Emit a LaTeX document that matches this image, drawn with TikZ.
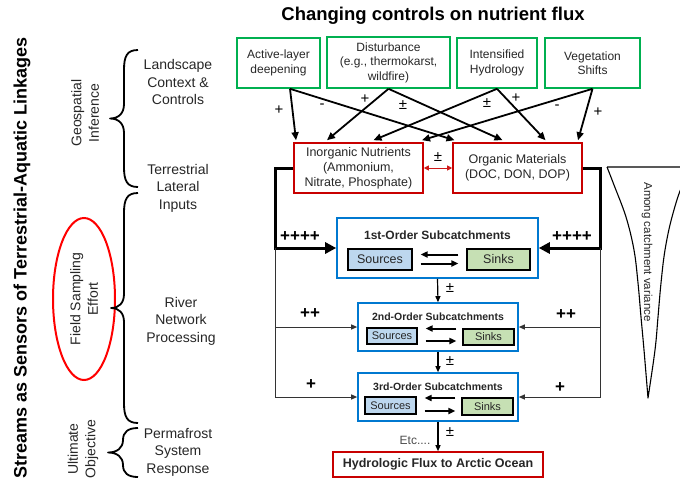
\documentclass[tikz,border=0pt]{standalone}
\usepackage{fontspec}
\setmainfont{Liberation Sans}
\usetikzlibrary{arrows.meta,calc}
\definecolor{gcol}{HTML}{00B050}
\definecolor{rcol}{HTML}{C80000}
\definecolor{bcol}{HTML}{0078D0}
\definecolor{srcfill}{HTML}{BDD7EE}
\definecolor{snkfill}{HTML}{C6E0B4}
\definecolor{txt}{HTML}{262626}
\definecolor{ell}{HTML}{FF0000}
\begin{document}
\begin{tikzpicture}[x=1pt,y=-1pt,
  gbox/.style={draw=gcol, line width=1.6pt, align=center, inner sep=0pt, minimum height=50, text=txt, font=\fontsize{12}{14.5}\selectfont},
  rbox/.style={draw=rcol, line width=1.6pt, align=center, inner sep=0pt, minimum height=50, text=txt, font=\fontsize{12.5}{15}\selectfont},
  bbox/.style={draw=bcol, line width=1.6pt, inner sep=0pt},
  srcbox/.style={draw=black, fill=srcfill, line width=1.2pt, inner sep=0pt, text=txt},
  snkbox/.style={draw=black, fill=snkfill, line width=1.2pt, inner sep=0pt, text=txt},
  ctrl/.style={line width=1.8pt, -{Triangle[length=8pt,width=7pt]}},
  thickln/.style={line width=3pt, -{Triangle[length=11pt,width=11pt]}},
  thinln/.style={line width=1pt, draw=black!80, -{Triangle[length=6pt,width=5pt]}},
  inarr/.style={line width=2pt, -{Triangle[length=7pt,width=6pt]}},
  varr/.style={line width=1.2pt, -{Triangle[length=6pt,width=5pt]}},
  sign/.style={font=\fontsize{15}{15}\selectfont, text=black},
  bsign/.style={font=\bfseries\fontsize{17}{17}\selectfont, text=black},
  lbl/.style={align=center, text=txt, font=\fontsize{14}{17.5}\selectfont},
  brc/.style={line width=1.8pt, line join=round}
]
\useasboundingbox (0,0) rectangle (680,491);

% titles
\node[font=\bfseries\fontsize{18.5}{20}\selectfont, text=black] (TT) at (433,16) {Changing controls on nutrient flux};
\node[rotate=90, font=\bfseries\fontsize{18}{18}\selectfont, text=black] (LT) at (22,258) {Streams as Sensors of Terrestrial-Aquatic Linkages};

% left column labels
\node[lbl, rotate=90] (GI) at (85,113) {Geospatial\\Inference};
\node[lbl, rotate=90] (FS) at (84,299) {Field Sampling\\Effort};
\node[lbl, rotate=90] (UO) at (83,449) {Ultimate\\Objective};
\node[lbl] (LC) at (178,82) {Landscape\\Context \&\\Controls};
\node[lbl] (TL) at (178,188) {Terrestrial\\Lateral\\Inputs};
\node[lbl] (RN) at (181,321) {River\\Network\\Processing};
\node[lbl] (PS) at (178,452) {Permafrost\\System\\Response};
\draw[ell, line width=2pt] (FS.center) ellipse [x radius=31, y radius=81];

% braces
\draw[brc] (138,50) .. controls (127,50) and (124,56) .. (124,70) -- (124,104) .. controls (124,113) and (119,118.5) .. (110,118.5) .. controls (119,118.5) and (124,124) .. (124,133) -- (124,167) .. controls (124,181) and (127,187) .. (138,187);
\draw[brc] (138,193) .. controls (127,193) and (124,199) .. (124,213) -- (124,294) .. controls (124,303) and (119,308) .. (111,308) .. controls (119,308) and (124,313) .. (124,322) -- (124,403) .. controls (124,417) and (127,423) .. (138,423);
\draw[brc] (138,428) .. controls (128,428) and (123,432) .. (123,440) .. controls (123,448) and (117,452.5) .. (108,452.5) .. controls (117,452.5) and (123,457) .. (123,465) .. controls (123,473) and (128,477) .. (138,477);

% green driver boxes
\node[gbox, minimum width=83] (A) at (278.5,63) {Active-layer\\deepening};
\node[gbox, minimum width=123, minimum height=51] (D) at (388.5,62.5) {Disturbance\\(e.g., thermokarst,\\wildfire)};
\node[gbox, minimum width=80] (H) at (497,63) {Intensified\\Hydrology};
\node[gbox, minimum width=95] (V) at (592.5,63) {Vegetation\\Shifts};

% red nutrient boxes
\node[rbox, minimum width=129] (I) at (358.5,168) {Inorganic Nutrients\\(Ammonium,\\Nitrate, Phosphate)};
\node[rbox, minimum width=129] (O) at (517.5,168) {Organic Materials\\(DOC, DON, DOP)};
\draw[rcol!90!white, line width=1pt, {Triangle[length=5pt,width=5pt]}-{Triangle[length=5pt,width=5pt]}] (I.east) -- (O.west);
\node[sign] (pmIO) at (438,157) {±};

% driver arrows
\coordinate (a0) at ($(A.south)+(11.5,0)$);
\draw[ctrl] (a0) -- ($(I.north)+(-62.5,-2)$);
\draw[ctrl] (a0) -- ($(O.north)+(-63,-2)$);
\draw[ctrl] (D.south) -- ($(I.north)+(-31.5,-2)$);
\draw[ctrl] (D.south) -- ($(O.north)+(-15,-2)$);
\draw[ctrl] (H.south) -- ($(I.north)+(15,-2)$);
\draw[ctrl] (H.south) -- ($(O.north)+(28,-2)$);
\draw[ctrl] (V.south) -- ($(I.north)+(63.5,-2)$);
\draw[ctrl] (V.south) -- ($(O.north)+(60.5,-2)$);
\node[sign] (s1) at (279,110) {+};
\node[sign] (s2) at (322,106) {-};
\node[sign] (s3) at (365,99) {+};
\node[sign] (s4) at (403,105) {±};
\node[sign] (s5) at (487,103) {±};
\node[sign] (s6) at (516,98) {+};
\node[sign] (s7) at (557,107) {-};
\node[sign] (s8) at (598,112) {+};

% 1st order
\node[bbox, minimum width=201, minimum height=60] (S1) at (437.5,248) {};
\node[font=\bfseries\fontsize{12}{12}\selectfont, text=txt] (S1t) at (437.5,235) {1st-Order Subcatchments};
\node[srcbox, minimum width=64, minimum height=21, font=\fontsize{12.5}{12.5}\selectfont] (R1) at (380,259.5) {Sources};
\node[snkbox, minimum width=63, minimum height=21, font=\fontsize{12.5}{12.5}\selectfont] (K1) at (498.5,259.5) {Sinks};
\draw[inarr] ($(K1.west)+(-8,-5)$) -- ($(R1.east)+(8,-5)$);
\draw[inarr] ($(R1.east)+(8,4)$) -- ($(K1.west)+(-8,4)$);

% 2nd order
\node[bbox, minimum width=160, minimum height=48] (S2) at (438,327) {};
\node[font=\bfseries\fontsize{10.5}{10.5}\selectfont, text=txt] (S2t) at (438,317) {2nd-Order Subcatchments};
\node[srcbox, minimum width=50, minimum height=16, font=\fontsize{11}{11}\selectfont] (R2) at (392,336) {Sources};
\node[snkbox, minimum width=51, minimum height=16, font=\fontsize{11}{11}\selectfont] (K2) at (488.5,337) {Sinks};
\draw[inarr] ($(K2.west)+(-6,-8.5)$) -- ($(R2.east)+(8,-7.5)$);
\draw[inarr] ($(R2.east)+(8,5)$) -- ($(K2.west)+(-6,4)$);

% 3rd order
\node[bbox, minimum width=160, minimum height=48] (S3) at (438,397) {};
\node[font=\bfseries\fontsize{10.5}{10.5}\selectfont, text=txt] (S3t) at (438,387) {3rd-Order Subcatchments};
\node[srcbox, minimum width=51, minimum height=17, font=\fontsize{11}{11}\selectfont] (R3) at (390.5,405.5) {Sources};
\node[snkbox, minimum width=51, minimum height=17, font=\fontsize{11}{11}\selectfont] (K3) at (487.5,406.5) {Sinks};
\draw[inarr] ($(K3.west)+(-6,-8.5)$) -- ($(R3.east)+(8,-7.5)$);
\draw[inarr] ($(R3.east)+(8,5.5)$) -- ($(K3.west)+(-6,4.5)$);

% outlet
\node[draw=rcol, line width=1.6pt, minimum width=210, minimum height=25, inner sep=0pt, font=\bfseries\fontsize{12.5}{12.5}\selectfont, text=txt] (F) at (438,464.5) {Hydrologic Flux to Arctic Ocean};

% vertical arrows
\draw[varr] (S1.south) -- (S2.north);
\node[sign] (v1) at (450,288) {±};
\draw[varr] (S2.south) -- (S3.north);
\node[sign] (v2) at (450,361) {±};
\draw[varr] (S3.south) -- (F.north);
\node[sign] (v3) at (450,432) {±};
\node[font=\fontsize{12}{12}\selectfont, text=black!70] (etc) at (415,440) {Etc....};

% lateral inputs
\coordinate (LJ) at (275,248);
\coordinate (RJ) at (600,248);
\draw[thickln] (I.west) -| (LJ) -- (S1.west);
\draw[thickln] (O.east) -| (RJ) -- (S1.east);
\draw[thinln] (LJ) |- (S2.west);
\draw[thinln] (LJ) |- (S3.west);
\draw[thinln] (RJ) |- (S2.east);
\draw[thinln] (RJ) |- (S3.east);
\node[bsign] (p1) at (300,237) {++++};
\node[bsign] (p2) at (572,237) {++++};
\node[bsign] (p3) at (310,314) {++};
\node[bsign] (p4) at (566,315) {++};
\node[bsign] (p5) at (311,385) {+};
\node[bsign] (p6) at (560,388) {+};

% funnel
\draw[line width=1.1pt, line join=round] (607,167) -- (697,167) -- plot[smooth, tension=0.6] coordinates {(697,167) (683,184) (672,217) (665,250) (661,283) (658,317) (655,350) (648,398)} -- plot[smooth, tension=0.6] coordinates {(648,398) (644,350) (641,317) (638,283) (634,250) (626,217) (614,185) (607,167)};
\node[rotate=-90, font=\fontsize{11.5}{11.5}\selectfont, text=txt] (AV) at (647,252) {Among catchment variance};
\end{tikzpicture}
\end{document}
